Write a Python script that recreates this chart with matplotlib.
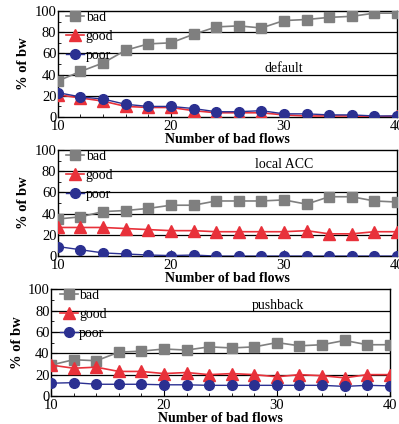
import matplotlib
matplotlib.use("Agg")
import matplotlib.pyplot as plt
from matplotlib.ticker import MultipleLocator

plt.rcParams['font.family'] = ['Liberation Serif', 'DejaVu Serif']

# data
flows = [10, 12, 14, 16, 18, 20, 22, 24, 26, 28, 30, 32, 34, 36, 38, 40]

default_bad = [34, 43, 51, 63, 69, 70, 78, 85, 86, 84, 91, 92, 94, 95, 98, 98]
default_good = [21, 18, 15, 10, 9, 9, 6, 4, 4, 4, 2, 1, 1, 1, 0, 1]
default_poor = [23, 19, 17, 12, 10, 10, 8, 5, 5, 6, 3, 3, 2, 2, 1, 1]

acc_bad = [35, 37, 42, 43, 45, 48, 48, 52, 52, 52, 53, 49, 56, 56, 52, 51]
acc_good = [27, 27, 27, 26, 25, 24, 24, 23, 23, 23, 23, 24, 21, 21, 23, 23]
acc_poor = [9, 6, 3, 2, 1, 0.5, 1, 0, 0, 0, 0, 0, 0, 0, 0, 0]

push_bad = [29, 34, 33, 41, 42, 44, 43, 46, 45, 46, 50, 47, 48, 52, 48, 48]
push_good = [29, 26, 27, 23, 23, 21, 22, 20, 21, 20, 18, 20, 19, 17, 20, 20]
push_poor = [12, 12.5, 11, 11, 11, 10.5, 10.5, 10, 10, 10, 10, 10, 10, 9, 10, 9.5]

panels = [
    ("default", default_bad, default_good, default_poor, [0.145, 0.724, 0.850, 0.250], (0.667, 0.46)),
    ("local ACC", acc_bad, acc_good, acc_poor, [0.145, 0.396, 0.850, 0.250], (0.667, 0.86)),
    ("pushback", push_bad, push_good, push_poor, [0.128, 0.066, 0.849, 0.252], (0.67, 0.85)),
]

GRAY = "#7f7f7f"
RED = "#e8313a"
BLUE = "#2b3091"

fig = plt.figure(figsize=(3.99, 4.24), dpi=100, facecolor="white")

for title, bad, good, poor, rect, tpos in panels:
    ax = fig.add_axes(rect)
    for y in [20, 40, 60, 80]:
        ax.axhline(y, color="black", linewidth=0.9, zorder=1)
    ax.plot(flows, bad, color=GRAY, marker="s", markersize=7.5, linewidth=1.2, label="bad", zorder=3)
    ax.plot(flows, good, color=RED, marker="^", markersize=8, linewidth=1.2, label="good", zorder=3)
    ax.plot(flows, poor, color=BLUE, marker="o", markersize=7, linewidth=1.0, label="poor", zorder=4)
    ax.set_xlim(10, 40)
    ax.set_ylim(0, 100)
    ax.xaxis.set_major_locator(MultipleLocator(10))
    ax.xaxis.set_minor_locator(MultipleLocator(2))
    ax.yaxis.set_major_locator(MultipleLocator(20))
    ax.yaxis.set_minor_locator(MultipleLocator(10))
    ax.tick_params(which="both", direction="in", labelsize=10.5)
    ax.tick_params(axis="y", pad=1)
    ax.tick_params(axis="x", pad=2)
    ax.tick_params(which="major", length=4)
    ax.tick_params(which="minor", length=2)
    for s in ax.spines.values():
        s.set_linewidth(1.0)
    ax.set_xlabel("Number of bad flows", fontsize=10, fontweight="bold", labelpad=0)
    ax.set_ylabel("% of bw", fontsize=10.5, fontweight="bold", labelpad=3)
    ax.text(tpos[0], tpos[1], title, transform=ax.transAxes, fontsize=10, ha="center", va="center")
    ax.legend(loc="upper left", frameon=False, fontsize=10, handlelength=1.3, handletextpad=0.1,
              borderaxespad=0.0, labelspacing=0.42, borderpad=0.0, bbox_to_anchor=(0.025, 1.0))

fig.savefig("out.png", dpi=100)
